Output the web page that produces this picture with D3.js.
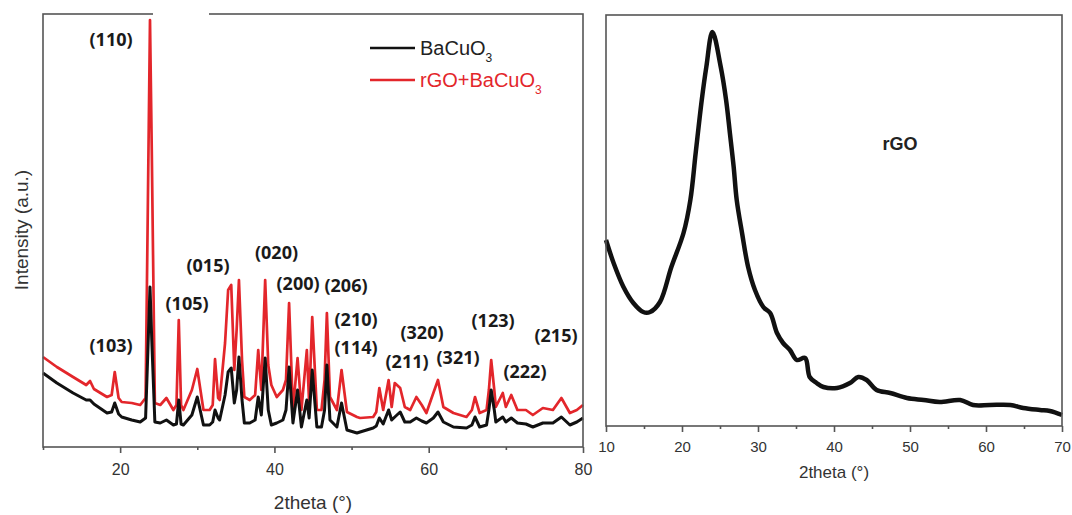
<!DOCTYPE html>
<html>
<head>
<meta charset="utf-8">
<script src="https://cdn.jsdelivr.net/npm/d3@7"></script>
<style>
  html, body { margin: 0; padding: 0; background: #fff; }
  svg { display: block; }
</style>
</head>
<body>
<svg id="chart" width="1072" height="515"></svg>
<script>
// ---------- Left panel data: XRD of BaCuO3 and rGO+BaCuO3 ----------
const twoTheta = [10.0, 11.8, 13.9, 15.6, 16.1, 16.6, 18.3, 18.9, 19.3, 19.8, 20.2, 21.5, 22.6, 23.3, 23.6, 23.87, 24.1, 24.5, 25.2, 26.0,
  26.9, 27.3, 27.6, 27.9, 28.2, 29.3, 30.0, 30.8, 31.6, 32.0, 32.3, 32.7, 32.9, 33.6, 34.0, 34.4, 34.8, 35.1, 35.4, 35.8,
  36.1, 36.8, 37.5, 37.9, 38.3, 38.8, 39.2, 39.6, 40.3, 41.1, 41.5, 41.9, 42.4, 43.0, 43.5, 44.2, 44.5, 44.9, 45.5, 46.1,
  46.5, 46.8, 47.2, 48.1, 48.7, 49.4, 50.7, 51.1, 52.8, 53.2, 53.6, 54.1, 54.8, 55.2, 55.6, 56.3, 56.9, 57.6, 58.4, 59.1,
  59.7, 60.6, 61.2, 61.9, 63.2, 64.9, 65.6, 66.0, 66.6, 67.5, 67.8, 68.1, 68.5, 68.7, 69.6, 70.0, 70.7, 71.5, 72.6, 73.5,
  74.8, 76.1, 77.2, 78.3, 79.2, 80.0];
const rgoBacuo = [90, 80, 70, 62, 66, 58, 50, 52, 75, 49, 45, 44, 42, 49, 247, 427, 297, 44, 42, 49,
  37, 42, 127, 42, 37, 57, 78, 37, 37, 42, 88, 49, 47, 104, 157, 162, 77, 117, 167, 87,
  50, 47, 52, 97, 57, 167, 82, 62, 50, 57, 67, 144, 37, 89, 37, 97, 44, 130, 37, 37,
  67, 134, 50, 37, 77, 35, 30, 29, 30, 35, 59, 37, 67, 40, 64, 59, 40, 37, 50, 42,
  34, 54, 67, 40, 34, 30, 37, 50, 34, 37, 57, 87, 57, 40, 54, 40, 52, 37, 37, 32,
  39, 37, 49, 34, 37, 42];
const bacuo = [74, 64, 54, 47, 47, 43, 34, 35, 44, 33, 30, 27, 25, 29, 97, 160, 107, 25, 24, 27,
  22, 23, 47, 23, 22, 32, 50, 22, 22, 25, 37, 29, 27, 52, 75, 79, 44, 57, 90, 47,
  24, 24, 27, 50, 32, 89, 37, 22, 24, 27, 37, 80, 24, 57, 20, 47, 29, 77, 20, 20,
  37, 82, 27, 20, 44, 17, 14, 15, 19, 21, 29, 23, 37, 27, 30, 35, 25, 25, 29, 26,
  24, 29, 35, 25, 20, 19, 22, 30, 20, 22, 37, 57, 37, 25, 30, 25, 29, 24, 23, 20,
  24, 24, 30, 22, 25, 29];

const peakLabels = ["(110)", "(103)", "(105)", "(015)", "(020)", "(200)", "(206)", "(210)", "(114)", "(211)", "(320)", "(321)", "(123)", "(222)", "(215)"];
const peakLabelTheta = [18.82, 18.82, 28.67, 31.39, 40.27, 43.06, 49.28, 50.58, 50.58, 57.19, 59.13, 63.80, 68.34, 72.48, 76.50];
const peakLabelIntensity = [407, 101, 143, 181, 194, 163, 161, 127, 99, 85, 114, 89, 126, 75, 111];

const leftTicks = [20, 40, 60, 80];
const leftMinorTicks = [10, 30, 50, 70];

// ---------- Right panel data: rGO ----------
const rgoTheta = [10.0, 11.0, 12.3, 13.6, 14.9, 15.8, 17.1, 18.6, 20.2, 21.1, 21.8, 22.6, 23.2, 24.0, 25.1, 25.8, 26.3, 26.8, 27.2, 27.9,
  28.7, 29.6, 30.7, 31.6, 32.5, 33.3, 34.2, 35.1, 36.2, 36.8, 37.7, 38.6, 40.4, 42.1, 43.2, 44.3, 45.6, 47.4, 49.6, 51.8,
  53.9, 56.6, 58.3, 60.5, 63.2, 64.9, 67.1, 68.4, 70.0];
const rgoIntensity = [186, 163, 139, 123, 114, 114, 124, 159, 193, 226, 273, 326, 359, 394, 359, 326, 293, 259, 226, 193,
  159, 136, 119, 113, 93, 83, 76, 66, 68, 49, 43, 39, 38, 43, 49, 46, 36, 33, 28, 26,
  24, 26, 21, 21, 21, 18, 16, 15, 11];
const rightTicks = [10, 20, 30, 40, 50, 60, 70];
const rightMinorTicks = [15, 25, 35, 45, 55, 65];
const rgoLabelTheta = 48.7, rgoLabelIntensity = 282;

// ---------- Drawing ----------
const svg = d3.select("#chart");
const axisColor = "#555";
const textColor = "#333";
const sansFont = "'Liberation Sans', Arial, sans-serif";

// Left panel scales
const xL = d3.scaleLinear().domain([10, 80]).range([43, 583]);
const yL = d3.scaleLinear().domain([0, 433]).range([447, 14]);

const gL = svg.append("g");
const lineL = (vals) => d3.line().x((d, i) => xL(twoTheta[i])).y(d => yL(d))(vals);

gL.append("path").attr("d", lineL(rgoBacuo))
  .attr("fill", "none").attr("stroke", "#e3262b").attr("stroke-width", 2.7).attr("stroke-linejoin", "round");
gL.append("path").attr("d", lineL(bacuo))
  .attr("fill", "none").attr("stroke", "#111").attr("stroke-width", 3).attr("stroke-linejoin", "round");

// frame
gL.append("rect").attr("x", xL(10)).attr("y", yL(433)).attr("width", xL(80) - xL(10)).attr("height", yL(0) - yL(433))
  .attr("fill", "none").attr("stroke", axisColor).attr("stroke-width", 1.6);
// white gap in top border (as in the reference image)
gL.append("line").attr("x1", 153).attr("x2", 209).attr("y1", yL(433)).attr("y2", yL(433))
  .attr("stroke", "#fff").attr("stroke-width", 3);

// x axis
const axL = gL.append("g").attr("transform", `translate(0,${yL(0)})`)
  .call(d3.axisBottom(xL).tickValues(leftTicks).tickSize(6).tickFormat(d3.format("d")));
axL.select(".domain").remove();
axL.selectAll("line").attr("stroke", axisColor).attr("stroke-width", 1.6);
axL.selectAll("text").attr("y", 28).attr("dy", 0).attr("fill", textColor)
  .style("font-family", sansFont).style("font-size", "16px");
const axLm = gL.append("g").attr("transform", `translate(0,${yL(0)})`)
  .call(d3.axisBottom(xL).tickValues(leftMinorTicks).tickSize(3).tickFormat(""));
axLm.select(".domain").remove();
axLm.selectAll("line").attr("stroke", axisColor).attr("stroke-width", 1.6);

// axis titles
gL.append("text").attr("x", (xL(10) + xL(80)) / 2).attr("y", 509).attr("text-anchor", "middle")
  .attr("fill", textColor).style("font-family", sansFont).style("font-size", "19px").text("2theta (°)");
gL.append("text").attr("transform", "translate(28,230) rotate(-90)").attr("text-anchor", "middle")
  .attr("fill", textColor).style("font-family", sansFont).style("font-size", "19px").text("Intensity (a.u.)");

// peak labels
gL.selectAll("text.peak").data(peakLabels).enter().append("text").attr("class", "peak")
  .attr("x", (d, i) => xL(peakLabelTheta[i])).attr("y", (d, i) => yL(peakLabelIntensity[i]))
  .attr("dy", "0.36em").attr("text-anchor", "middle").attr("fill", "#1a1a1a")
  .style("font-family", "'Open Sans', sans-serif").style("font-weight", 700).style("font-size", "18px")
  .text(d => d);

// legend
const legend = [
  { name: "BaCuO", color: "#111", y: 48, text: "#222" },
  { name: "rGO+BaCuO", color: "#e3262b", y: 80, text: "#e3262b" }
];
legend.forEach(l => {
  gL.append("line").attr("x1", 370).attr("x2", 415).attr("y1", l.y).attr("y2", l.y)
    .attr("stroke", l.color).attr("stroke-width", 2.4);
  const t = gL.append("text").attr("x", 420).attr("y", l.y + 7).attr("fill", l.text)
    .style("font-family", sansFont).style("font-size", "20px");
  t.append("tspan").text(l.name);
  t.append("tspan").attr("dy", 7).style("font-size", "12px").text("3");
});

// Right panel
const xR = d3.scaleLinear().domain([10, 70]).range([606, 1062]);
const yR = d3.scaleLinear().domain([0, 411]).range([426, 15]);
const gR = svg.append("g");
gR.append("path")
  .attr("d", d3.line().x((d, i) => xR(rgoTheta[i])).y(d => yR(d)).curve(d3.curveCatmullRom.alpha(0.5))(rgoIntensity))
  .attr("fill", "none").attr("stroke", "#111").attr("stroke-width", 4.5).attr("stroke-linejoin", "round");
gR.append("rect").attr("x", xR(10)).attr("y", yR(411)).attr("width", xR(70) - xR(10)).attr("height", yR(0) - yR(411))
  .attr("fill", "none").attr("stroke", axisColor).attr("stroke-width", 1.6);
const axR = gR.append("g").attr("transform", `translate(0,${yR(0)})`)
  .call(d3.axisBottom(xR).tickValues(rightTicks).tickSize(6).tickFormat(d3.format("d")));
axR.select(".domain").remove();
axR.selectAll("line").attr("stroke", axisColor).attr("stroke-width", 1.6);
axR.selectAll("text").attr("y", 26).attr("dy", 0).attr("fill", textColor)
  .style("font-family", sansFont).style("font-size", "15px");
const axRm = gR.append("g").attr("transform", `translate(0,${yR(0)})`)
  .call(d3.axisBottom(xR).tickValues(rightMinorTicks).tickSize(3).tickFormat(""));
axRm.select(".domain").remove();
axRm.selectAll("line").attr("stroke", axisColor).attr("stroke-width", 1.6);
gR.append("text").attr("x", (xR(10) + xR(70)) / 2).attr("y", 478).attr("text-anchor", "middle")
  .attr("fill", textColor).style("font-family", sansFont).style("font-size", "17px").text("2theta (°)");
gR.append("text").attr("x", xR(rgoLabelTheta)).attr("y", yR(rgoLabelIntensity)).attr("dy", "0.36em")
  .attr("text-anchor", "middle").attr("fill", "#222")
  .style("font-family", sansFont).style("font-weight", 700).style("font-size", "18px").text("rGO");
</script>
</body>
</html>
